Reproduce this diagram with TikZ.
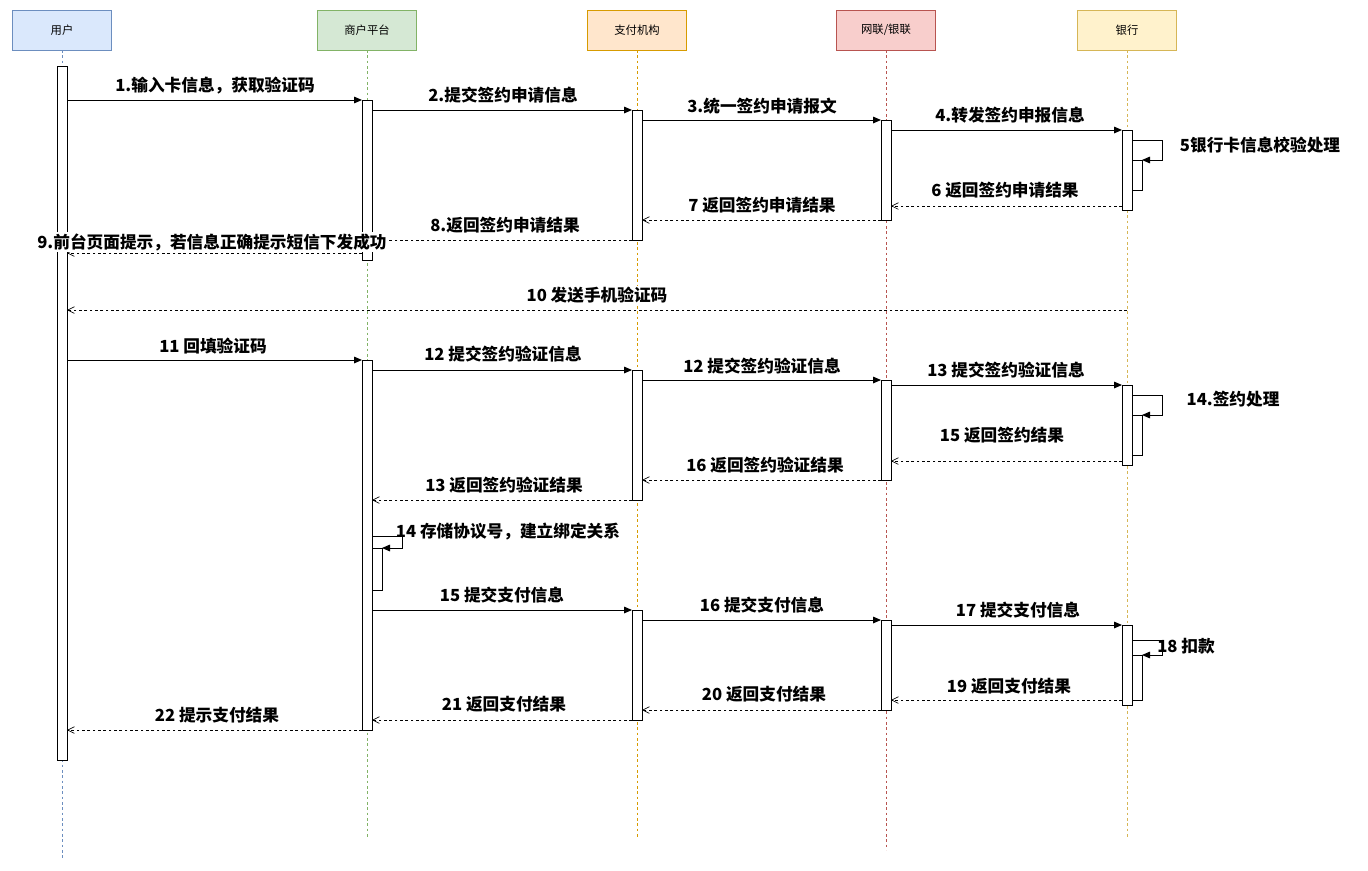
\documentclass[tikz,border=0pt]{standalone}
\usepackage{fontspec}
\setmainfont{Noto Sans CJK SC}
\usetikzlibrary{arrows.meta}
\definecolor{bF}{HTML}{DAE8FC}\definecolor{bD}{HTML}{6C8EBF}
\definecolor{gF}{HTML}{D5E8D4}\definecolor{gD}{HTML}{82B366}
\definecolor{oF}{HTML}{FFE6CC}\definecolor{oD}{HTML}{D79B00}
\definecolor{rF}{HTML}{F8CECC}\definecolor{rD}{HTML}{B85450}
\definecolor{yF}{HTML}{FFF2CC}\definecolor{yD}{HTML}{D6B656}
\begin{document}
\begin{tikzpicture}[x=0.75pt,y=-0.75pt,
 hdr/.style={draw=#1,minimum width=74.25pt,minimum height=30pt,inner sep=0pt,font=\fontsize{8.5}{10}\selectfont},
 life/.style={draw=#1,dashed,dash pattern=on 2pt off 2pt,line width=0.5pt},
 act/.style={draw,fill=white,line width=0.7pt},
 msg/.style={-{Triangle[length=6pt,width=5pt]},line width=0.7pt},
 ret/.style={-{Straight Barb[length=5pt,width=5pt]},line width=0.5pt,dashed,dash pattern=on 2pt off 2pt},
 lbl/.style={font=\fontsize{12.5}{14}\selectfont\bfseries,inner sep=1pt,fill=white}]
\useasboundingbox (0,0) rectangle (1368,871);
\fill[white] (0,0) rectangle (1368,871);
% lifelines
\draw[life=bD] (62,50) -- (62,858);
\draw[life=gD] (367,50) -- (367,838);
\draw[life=oD] (637,50) -- (637,838);
\draw[life=rD] (886,50) -- (886,850);
\draw[life=yD] (1127,50) -- (1127,838);
\node[hdr=bD,fill=bF] (u) at (62,30) {用户};
\node[hdr=gD,fill=gF] (m) at (367,30) {商户平台};
\node[hdr=oD,fill=oF] (p) at (637,30) {支付机构};
\node[hdr=rD,fill=rF] (n) at (886,30) {网联/银联};
\node[hdr=yD,fill=yF] (b) at (1127,30) {银行};
% activations
\draw[act] (57,66) rectangle (67,760);
\draw[act] (362,100) rectangle (372,260);
\draw[act] (362,360) rectangle (372,730);
\draw[act] (372,548) rectangle (382,590);
\foreach \a/\b in {110/240,370/500,610/720} \draw[act] (632,\a) rectangle (642,\b);
\foreach \a/\b in {120/220,380/480,620/710} \draw[act] (881,\a) rectangle (891,\b);
\foreach \a/\b in {130/210,385/465,625/705} \draw[act] (1122,\a) rectangle (1132,\b);
\foreach \a/\b in {160/190,415/455,655/700} \draw[act] (1132,\a) rectangle (1142,\b);
% coordinates
\coordinate (s5) at (1132,140); \coordinate (e5) at (1142,160);
\coordinate (s14) at (1132,395); \coordinate (e14) at (1142,415);
\coordinate (s18) at (1132,640); \coordinate (e18) at (1142,655);
\coordinate (s14m) at (372,536); \coordinate (e14m) at (382,548);
% messages
\draw[msg] (67,100) -- (362,100);
\draw[msg] (372,110) -- (632,110);
\draw[msg] (642,120) -- (881,120);
\draw[msg] (891,130) -- (1122,130);
\draw[msg] (s5) -- ++(30,0) |- (e5);
\draw[ret] (1122,206) -- (891,206);
\draw[ret] (881,220) -- (642,220);
\draw[ret] (632,240) -- (372,240);
\draw[ret] (362,253) -- (67,253);
\draw[ret] (1127,310) -- (67,310);
\draw[msg] (67,360) -- (362,360);
\draw[msg] (372,370) -- (632,370);
\draw[msg] (642,380) -- (881,380);
\draw[msg] (891,385) -- (1122,385);
\draw[msg] (s14) -- ++(30,0) |- (e14);
\draw[ret] (1122,461) -- (891,461);
\draw[ret] (881,480) -- (642,480);
\draw[ret] (632,500) -- (372,500);
\draw[msg] (s14m) -- ++(30,0) |- (e14m);
\draw[msg] (372,610) -- (632,610);
\draw[msg] (642,620) -- (881,620);
\draw[msg] (891,625) -- (1122,625);
\draw[msg] (s18) -- ++(30,0) |- (e18);
\draw[ret] (1122,700) -- (891,700);
\draw[ret] (881,710) -- (642,710);
\draw[ret] (632,720) -- (372,720);
\draw[ret] (362,730) -- (67,730);
% labels
\node[lbl,fill=none] (l1) at (215,86) {1.输入卡信息，获取验证码};
\node[lbl,fill=none] (l2) at (503,95) {2.提交签约申请信息};
\node[lbl,fill=none] (l3) at (762,106) {3.统一签约申请报文};
\node[lbl,fill=none] (l4) at (1010,115) {4.转发签约申报信息};
\node[lbl,fill=none] (l5) at (1260,145) {5银行卡信息校验处理};
\node[lbl,fill=none] (l6) at (1005,190) {6 返回签约申请结果};
\node[lbl,fill=none] (l7) at (762,205) {7 返回签约申请结果};
\node[lbl,fill=none] (l8) at (505,225) {8.返回签约申请结果};
\node[lbl] (l9) at (212,242) {9.前台页面提示，若信息正确提示短信下发成功};
\node[lbl] (l10) at (597,295) {10 发送手机验证码};
\node[lbl,fill=none] (l11) at (213,346) {11 回填验证码};
\node[lbl,fill=none] (l12) at (503,354) {12 提交签约验证信息};
\node[lbl,fill=none] (l12b) at (762,366) {12 提交签约验证信息};
\node[lbl,fill=none] (l13) at (1006,370) {13 提交签约验证信息};
\node[lbl,fill=none] (l14) at (1233,399) {14.签约处理};
\node[lbl,fill=none] (l15) at (1002,435) {15 返回签约结果};
\node[lbl,fill=none] (l16) at (765,465) {16 返回签约验证结果};
\node[lbl,fill=none] (l13r) at (504,485) {13 返回签约验证结果};
\node[lbl,fill=none] (l14m) at (508,532) {14 存储协议号，建立绑定关系};
\node[lbl,fill=none] (l15p) at (502,595) {15 提交支付信息};
\node[lbl,fill=none] (l16p) at (762,605) {16 提交支付信息};
\node[lbl,fill=none] (l17) at (1018,610) {17 提交支付信息};
\node[lbl,fill=none] (l18) at (1186,646) {18 扣款};
\node[lbl,fill=none] (l19) at (1009,686) {19 返回支付结果};
\node[lbl,fill=none] (l20) at (764,694) {20 返回支付结果};
\node[lbl,fill=none] (l21) at (504,704) {21 返回支付结果};
\node[lbl,fill=none] (l22) at (217,715) {22 提示支付结果};
\end{tikzpicture}
\end{document}
